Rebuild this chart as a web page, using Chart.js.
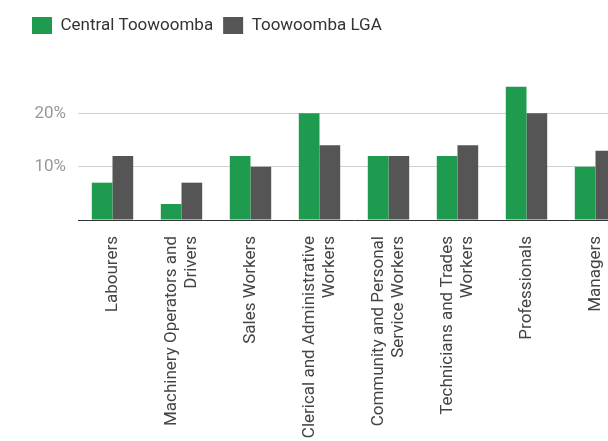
<!DOCTYPE html>
<html>
<head>
<meta charset="utf-8">
<script src="https://cdn.jsdelivr.net/npm/chart.js@4/dist/chart.umd.min.js"></script>
<style>
  html, body { margin: 0; padding: 0; background: #fff; overflow: hidden; }
  #wrap { width: 640px; height: 480px; }
</style>
</head>
<body>
<div id="wrap"><canvas id="occChart" width="640" height="480"></canvas></div>
<script>
// occupations, share of employed persons (%)
const occupations = [
  'Labourers',
  ['Machinery Operators and', 'Drivers'],
  'Sales Workers',
  ['Clerical and Administrative', 'Workers'],
  ['Community and Personal', 'Service Workers'],
  ['Technicians and Trades', 'Workers'],
  'Professionals',
  'Managers'
];
const centralToowoomba = [7, 3, 12, 20, 12, 12, 25, 10];
const toowoombaLGA = [12, 7, 10, 14, 12, 14, 20, 13];
const yTicks = [10, 20];

Chart.defaults.font.family = 'Roboto, "Open Sans", sans-serif';
Chart.defaults.font.size = 17;

// leave some room under the legend
const legendGap = {
  id: 'legendGap',
  afterInit(chart) {
    const fit = chart.legend.fit;
    chart.legend.fit = function () {
      fit.call(this);
      this.height += 16;
    };
  }
};

// rotated two-line labels: centre the whole block on the tick
const centerLabels = {
  id: 'centerLabels',
  afterLayout(chart) {
    const x = chart.scales.x;
    if (x._centerPatched) return;
    const compute = x._computeLabelItems;
    x._computeLabelItems = function (area) {
      const items = compute.call(this, area);
      items.forEach(it => {
        const n = Array.isArray(it.label) ? it.label.length : 1;
        if (n > 1) it.options.translation[0] -= (n - 1) * it.font.lineHeight / 2;
      });
      return items;
    };
    x._centerPatched = true;
  }
};

new Chart(document.getElementById('occChart'), {
  type: 'bar',
  data: {
    labels: occupations,
    datasets: [
      {
        label: 'Central Toowoomba',
        data: centralToowoomba,
        backgroundColor: '#1f9b4f',
        categoryPercentage: 0.6,
        barPercentage: 1.0
      },
      {
        label: 'Toowoomba LGA',
        data: toowoombaLGA,
        backgroundColor: '#555555',
        categoryPercentage: 0.6,
        barPercentage: 1.0
      }
    ]
  },
  options: {
    responsive: false,
    animation: false,
    layout: { padding: { top: 7, left: 22, right: 10, bottom: 0 } },
    plugins: {
      legend: {
        position: 'top',
        align: 'start',
        labels: {
          boxWidth: 20,
          boxHeight: 17,
          padding: 10,
          color: '#333',
          font: { size: 17 }
        }
      },
      tooltip: { enabled: false }
    },
    scales: {
      x: {
        grid: { display: false, drawTicks: false },
        border: { color: '#333', width: 1 },
        ticks: {
          minRotation: 90,
          maxRotation: 90,
          autoSkip: false,
          padding: 16,
          color: '#444'
        },
        afterFit: s => { s.height = 260; }
      },
      y: {
        min: 0,
        max: 30,
        border: { display: false },
        grid: {
          drawTicks: false,
          color: ctx => yTicks.includes(ctx.tick.value) ? '#d0d0d0' : 'transparent'
        },
        ticks: {
          stepSize: 10,
          padding: 12,
          color: '#999',
          callback: v => yTicks.includes(v) ? v + '%' : ''
        },
        afterFit: s => { s.width = 56; }
      }
    }
  },
  plugins: [legendGap, centerLabels]
});
</script>
</body>
</html>
